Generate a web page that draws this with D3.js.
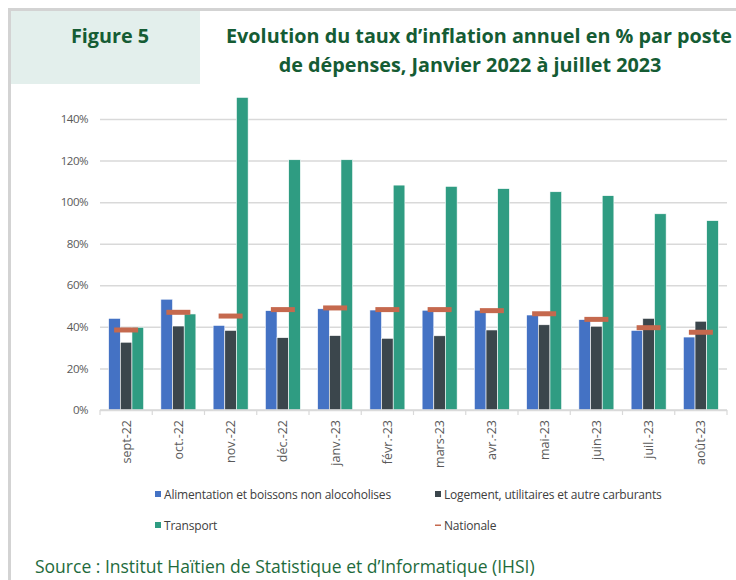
<!DOCTYPE html>
<html>
<head>
<meta charset="utf-8">
<script src="https://cdn.jsdelivr.net/npm/d3@7/dist/d3.min.js"></script>
<style>
  html, body { margin: 0; padding: 0; background: #fff; }
  svg { display: block; }
</style>
</head>
<body>
<svg id="chart" width="736" height="580"></svg>
<script>
// Monthly categories
const months = ["sept-22", "oct.-22", "nov.-22", "déc.-22", "janv.-23", "févr.-23",
                "mars-23", "avr.-23", "mai-23", "juin-23", "juil.-23", "août-23"];
// Annual inflation rate (%) by expenditure item
const alimentation = [44.1, 53.3, 40.7, 47.8, 48.7, 48.1, 48.0, 48.0, 45.7, 43.5, 38.3, 35.1];
const logement     = [32.6, 40.4, 38.3, 34.8, 35.8, 34.5, 35.7, 38.5, 41.0, 40.3, 44.1, 42.7];
const transport    = [39.8, 46.2, 150.4, 120.4, 120.4, 108.2, 107.6, 106.5, 105.0, 103.1, 94.4, 91.1];
const nationale    = [38.5, 47.0, 45.2, 48.3, 49.1, 48.3, 48.3, 47.8, 46.3, 43.6, 39.6, 37.4];
// Y axis ticks
const yTicks = [0, 20, 40, 60, 80, 100, 120, 140];
const seriesNames = ["Alimentation et boissons non alocoholises",
                     "Logement, utilitaires et autre carburants",
                     "Transport", "Nationale"];

const colors = { alim: "#4472c4", loge: "#3b464c", trans: "#2f9c82", nat: "#c5694e" };
const green = "#155c34";
const svg = d3.select("#chart");

// Frame and header panel
svg.append("rect").attr("x", 8).attr("y", 8).attr("width", 728).attr("height", 3).attr("fill", "#d3d3d3");
svg.append("rect").attr("x", 8).attr("y", 8).attr("width", 3).attr("height", 572).attr("fill", "#d3d3d3");
svg.append("rect").attr("x", 11).attr("y", 11).attr("width", 189).attr("height", 73).attr("fill", "#e3efec");

const titleFont = { family: "Open Sans", size: 19.8 };
svg.append("text").attr("x", 110).attr("y", 43).attr("text-anchor", "middle")
  .attr("font-family", titleFont.family).attr("font-weight", 700).attr("font-size", titleFont.size)
  .attr("fill", green).text("Figure 5");
svg.append("text").attr("x", 479).attr("y", 43).attr("text-anchor", "middle")
  .attr("font-family", titleFont.family).attr("font-weight", 700).attr("font-size", titleFont.size)
  .attr("fill", green).text("Evolution du taux d\u2019inflation annuel en % par poste");
svg.append("text").attr("x", 470).attr("y", 72).attr("text-anchor", "middle")
  .attr("font-family", titleFont.family).attr("font-weight", 700).attr("font-size", titleFont.size)
  .attr("fill", green).text("de dépenses, Janvier 2022 à juillet 2023");

// Scales
const plot = { left: 100, right: 727, top: 119, bottom: 410 };
const y = d3.scaleLinear().domain([0, 140]).range([plot.bottom, plot.top]);
const x0 = d3.scaleBand().domain(months).range([plot.left, plot.right])
  .paddingInner(0.33).paddingOuter(0.165);
const x1 = d3.scaleBand().domain(["alim", "loge", "trans"]).range([0, x0.bandwidth()]);

// Gridlines and y labels
const yAxis = d3.axisLeft(y).tickValues(yTicks).tickFormat(d => d + "%")
  .tickSize(-(plot.right - plot.left)).tickPadding(12);
const gy = svg.append("g").attr("transform", `translate(${plot.left},0)`).call(yAxis);
gy.select(".domain").remove();
gy.selectAll(".tick line").attr("stroke", "#d9d9d9").attr("stroke-width", 1.5);
gy.selectAll(".tick text").attr("font-family", "Open Sans").attr("font-size", 11.5)
  .attr("fill", "#595959").attr("letter-spacing", -0.5);

// Bars
const rows = months.map((m, i) => ({ m, alim: alimentation[i], loge: logement[i], trans: transport[i], nat: nationale[i] }));
const groups = svg.append("g").selectAll("g").data(rows).join("g")
  .attr("transform", d => `translate(${x0(d.m)},0)`);
groups.selectAll("rect").data(d => ["alim", "loge", "trans"].map(k => ({ k, v: d[k] }))).join("rect")
  .attr("x", d => x1(d.k)).attr("width", x1.bandwidth())
  .attr("y", d => y(d.v)).attr("height", d => y(0) - y(d.v))
  .attr("fill", d => colors[d.k]).attr("stroke", "#ffffff").attr("stroke-width", 0.6);

// National rate markers
const markW = 24;
svg.append("g").selectAll("line").data(rows).join("line")
  .attr("x1", d => x0(d.m) + x0.bandwidth() / 2 - markW / 2)
  .attr("x2", d => x0(d.m) + x0.bandwidth() / 2 + markW / 2)
  .attr("y1", d => y(d.nat)).attr("y2", d => y(d.nat))
  .attr("stroke", colors.nat).attr("stroke-width", 5);

// X axis baseline, separators and labels
const gx = svg.append("g");
gx.append("line").attr("x1", plot.left).attr("x2", plot.right)
  .attr("y1", y(0)).attr("y2", y(0)).attr("stroke", "#d9d9d9").attr("stroke-width", 1.5);
const step = x0.step();
gx.selectAll(".sep").data(d3.range(months.length + 1)).join("line")
  .attr("x1", i => plot.left + i * step).attr("x2", i => plot.left + i * step)
  .attr("y1", y(0)).attr("y2", y(0) + 5).attr("stroke", "#d9d9d9").attr("stroke-width", 1.2);
gx.selectAll(".lbl").data(months).join("text")
  .attr("transform", d => `translate(${x0(d) + x0.bandwidth() / 2 + 4.5},${y(0) + 10}) rotate(-90)`)
  .attr("text-anchor", "end").attr("font-family", "Open Sans").attr("font-size", 12.5)
  .attr("fill", "#595959").text(d => d);

// Legend
const legend = svg.append("g").attr("font-family", "Open Sans").attr("font-size", 12)
  .attr("fill", "#404040").attr("letter-spacing", -0.2);
const legendItems = [
  { name: seriesNames[0], color: colors.alim, x: 155, y: 494, type: "box" },
  { name: seriesNames[1], color: colors.loge, x: 435, y: 494, type: "box" },
  { name: seriesNames[2], color: colors.trans, x: 155, y: 525, type: "box" },
  { name: seriesNames[3], color: colors.nat, x: 435, y: 525, type: "dash" }
];
legendItems.forEach(it => {
  if (it.type === "box") {
    legend.append("rect").attr("x", it.x).attr("y", it.y - 3).attr("width", 6).attr("height", 6).attr("fill", it.color);
  } else {
    legend.append("rect").attr("x", it.x).attr("y", it.y - 0.5).attr("width", 6).attr("height", 1.5).attr("fill", it.color);
  }
  legend.append("text").attr("x", it.x + 9).attr("y", it.y + 4.5).text(it.name);
});

// Source note
svg.append("text").attr("x", 35).attr("y", 573).attr("font-family", "Open Sans")
  .attr("font-size", 17.5).attr("fill", "#1e6b3c")
  .text("Source : Institut Haïtien de Statistique et d\u2019Informatique (IHSI)");
</script>
</body>
</html>
